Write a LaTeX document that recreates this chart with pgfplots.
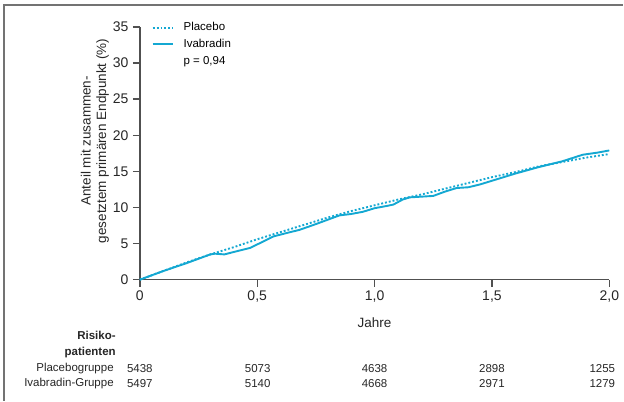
\documentclass[border=0pt]{standalone}
\usepackage{pgfplots}
\pgfplotsset{compat=1.18}
\usepackage{fontspec}
\setmainfont{Liberation Sans}
\definecolor{kmblue}{RGB}{20,168,210}
\definecolor{axgray}{RGB}{80,80,80}

\begin{document}
\begin{tikzpicture}[x=1pt,y=1pt]
% bounding box and cropped frame
\path (-140,-121) rectangle (484,280);
\draw[axgray!80, line width=1.4pt] (-136,-121) -- (-136,275) -- (484,275);

\begin{axis}[
  at={(0,0)}, anchor=origin,
  scale only axis, width=470pt, height=253pt,
  xmin=0, xmax=2, ymin=0, ymax=35,
  axis lines=left, axis line style={axgray, line width=1.5pt, -},
  tick style={axgray, line width=1.4pt},
  tick align=outside, major tick length=7pt,
  xtick={0,0.5,1,1.5,2},
  xticklabels={0,{0,5},{1,0},{1,5},{2,0}},
  ytick={0,5,...,35},
  /pgf/number format/assume math mode=true,
  ticklabel style={font=\fontsize{14}{16}\selectfont, text=black!85},
  xticklabel style={yshift=-1pt},
  yticklabel style={xshift=-1pt},
  clip=false,
  legend style={at={(axis cs:0.05,35.9)}, anchor=north west, draw=none, fill=none,
    font=\fontsize{11.5}{13}\selectfont, row sep=3pt, inner sep=0pt,
    /tikz/every odd column/.append style={column sep=8pt},
    /tikz/every even column/.append style={column sep=0pt}},
  legend cell align=left,
  legend image code/.code={\draw[#1] (0pt,0pt) -- (20pt,0pt);},
]
\addplot[kmblue, line width=1.9pt, dotted] coordinates {
(0,0) (0.1,1.2) (0.2,2.4) (0.3,3.5) (0.4,4.5) (0.5,5.6) (0.6,6.6) (0.7,7.6)
(0.8,8.6) (0.9,9.5) (1.0,10.3) (1.1,11.1) (1.2,11.8) (1.3,12.6) (1.4,13.4)
(1.5,14.2) (1.6,14.9) (1.7,15.7) (1.8,16.3) (1.9,16.9) (2.0,17.4)};
\addplot[kmblue, line width=1.9pt] coordinates {
(0,0) (0.1,1.2) (0.2,2.3) (0.3,3.5) (0.32,3.6) (0.36,3.5) (0.42,4.0) (0.47,4.4)
(0.52,5.2) (0.57,6.0) (0.63,6.5) (0.68,6.9) (0.75,7.7) (0.85,8.9) (0.9,9.1)
(0.95,9.4) (1.0,9.9) (1.05,10.2) (1.08,10.4) (1.12,11.1) (1.15,11.4) (1.2,11.5)
(1.25,11.6) (1.3,12.2) (1.35,12.7) (1.4,12.8) (1.45,13.2) (1.5,13.7) (1.6,14.7)
(1.7,15.6) (1.8,16.4) (1.886,17.3) (1.95,17.6) (2.0,17.9)};
\addlegendentry{Placebo}
\addlegendentry{Ivabradin}
\addlegendimage{draw opacity=0}
\addlegendentry{p = 0,94}
\end{axis}

% axis titles
\node[rotate=90, align=center, font=\fontsize{13.5}{15.5}\selectfont, text=black!85]
  at (-45,139) {Anteil mit zusammen-\\gesetztem primären Endpunkt (\%)};
\node[font=\fontsize{13.5}{15}\selectfont, text=black!85] at (235,-43) {Jahre};

% number at risk table
\begin{scope}[every node/.style={font=\fontsize{11.5}{13}\selectfont, text=black!85, inner sep=0pt}]
\node[anchor=east, font=\bfseries\fontsize{11.5}{13}\selectfont] at (-24,-56) {Risiko-};
\node[anchor=east, font=\bfseries\fontsize{11.5}{13}\selectfont] at (-24,-73) {patienten};
\node[anchor=east] at (-26,-89) {Placebogruppe};
\node[anchor=east] at (-26,-104) {Ivabradin-Gruppe};
\foreach \x/\a/\b in {0/5438/5497, 118/5073/5140, 235/4638/4668, 352.5/2898/2971, 463/1255/1279}{
  \node at (\x,-89) {\a};
  \node at (\x,-104) {\b};
}
\end{scope}
\end{tikzpicture}
\end{document}
